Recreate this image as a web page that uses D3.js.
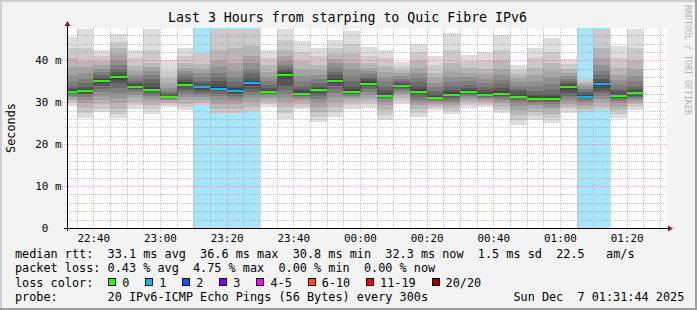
<!DOCTYPE html>
<html>
<head>
<meta charset="utf-8">
<script src="https://cdn.jsdelivr.net/npm/d3@7"></script>
<style>
  html, body { margin: 0; padding: 0; background: #f3f3f3; }
  svg { display: block; }
  text { font-family: "DejaVu Sans Mono", monospace; white-space: pre; }
</style>
</head>
<body>
<div id="chart"></div>
<script>
(function(){
  'use strict';

  // 5 minute buckets (start time of each bucket)
  var barTimes = ["22:30","22:35","22:40","22:45","22:50","22:55","23:00","23:05","23:10","23:15",
                  "23:20","23:25","23:30","23:35","23:40","23:45","23:50","23:55","00:00","00:05",
                  "00:10","00:15","00:20","00:25","00:30","00:35","00:40","00:45","00:50","00:55",
                  "01:00","01:05","01:10","01:15","01:20"];

  var medians = [32.5,32.7,35.1,36.0,33.6,33.0,31.3,34.1,33.6,33.3,
                 32.7,34.6,32.5,36.6,32.1,32.9,35.1,32.5,34.4,31.5,
                 33.8,32.5,31.1,31.7,32.4,31.7,32.0,31.3,30.8,30.8,
                 33.6,31.3,34.3,31.4,32.2];

  var lossCounts = [0,0,0,0,0,0,0,0,1,1,
                    1,1,0,0,0,0,0,0,0,0,
                    0,0,0,0,0,0,0,0,0,0,
                    0,1,1,0,0];

  // sorted ping rtts per bucket (ms), lost pings are null
  var pings = [
    [29.2,29.8,30.3,30.8,31.2,31.6,31.9,32.2,32.4,32.5,32.7,33.0,33.4,34.0,35.0,36.5,38.5,40.5,43.0,45.6],
    [26.3,27.5,28.7,29.8,30.6,31.2,31.7,32.1,32.4,32.6,32.8,33.2,33.7,34.5,35.5,37.0,38.5,39.8,43.0,47.5],
    [27.7,28.5,29.5,30.5,31.5,32.5,33.3,34.0,34.6,35.0,35.2,35.6,36.0,36.6,37.3,38.0,38.8,39.8,41.0,42.6],
    [26.3,27.3,28.5,29.8,31.0,32.2,33.4,34.5,35.4,35.9,36.1,36.6,37.2,38.0,39.0,40.0,41.5,43.0,44.5,46.2],
    [28.3,29.3,30.2,31.0,31.8,32.4,32.9,33.2,33.4,33.6,33.8,34.1,34.5,35.0,35.7,36.5,37.5,38.7,40.5,42.6],
    [27.3,28.3,29.4,30.3,31.0,31.6,32.1,32.5,32.8,33.0,33.2,33.7,34.5,35.5,36.5,37.5,38.5,39.5,42.5,47.5],
    [28.8,29.3,29.8,30.3,30.6,30.9,31.0,31.1,31.2,31.3,31.4,31.6,31.9,32.3,32.8,33.5,34.5,35.8,37.5,40.0],
    [28.1,28.9,29.7,30.5,31.3,32.0,32.7,33.3,33.7,34.0,34.3,34.8,35.4,36.0,36.7,37.5,38.3,39.3,41.0,42.9],
    [28.9,29.4,30.0,30.6,31.2,31.8,32.3,32.8,33.2,33.5,33.7,34.0,34.5,35.2,36.0,37.0,38.0,39.2,41.8,null],
    [27.0,27.5,28.5,29.5,30.5,31.4,32.0,32.6,33.0,33.3,33.6,34.2,35.0,36.0,37.0,38.5,40.0,42.5,47.6,null],
    [27.0,27.5,28.5,29.5,30.3,31.0,31.6,32.0,32.3,32.6,32.9,33.4,34.0,34.8,36.0,37.5,39.5,43.0,47.6,null],
    [27.5,28.0,29.0,30.0,31.0,31.8,32.5,33.2,33.8,34.3,34.7,35.2,36.0,37.0,38.0,39.5,41.0,43.5,47.5,null],
    [28.8,29.5,30.2,30.8,31.3,31.7,32.0,32.2,32.4,32.5,32.7,33.0,33.5,34.2,35.0,36.0,37.3,38.8,40.5,42.6],
    [26.1,27.5,28.8,30.0,31.0,32.0,33.0,34.0,35.5,36.5,36.8,37.2,37.7,38.3,39.0,39.8,41.0,42.5,45.0,47.6],
    [28.3,29.0,29.7,30.4,30.9,31.3,31.6,31.8,32.0,32.1,32.3,32.7,33.3,34.0,35.0,36.3,38.0,39.8,42.0,44.6],
    [25.3,26.5,27.8,29.0,30.0,30.8,31.5,32.1,32.6,32.9,33.1,33.5,34.0,34.7,35.5,36.5,37.7,39.0,41.0,43.0],
    [26.5,27.8,29.0,30.2,31.3,32.3,33.2,34.0,34.6,35.0,35.3,35.8,36.5,37.3,38.3,39.3,40.3,41.5,43.0,44.8],
    [28.5,29.3,30.0,30.7,31.2,31.6,31.9,32.1,32.3,32.5,32.7,33.2,34.0,35.0,36.3,38.0,39.5,41.5,44.0,47.1],
    [28.7,29.5,30.3,31.1,31.8,32.5,33.1,33.6,34.1,34.4,34.7,35.1,35.6,36.1,36.7,37.4,38.2,39.3,41.0,43.2],
    [25.8,27.0,28.2,29.3,30.2,30.8,31.1,31.3,31.4,31.5,31.7,32.2,33.0,34.0,35.0,36.0,37.3,38.7,40.5,42.6],
    [29.5,30.3,31.0,31.7,32.3,32.8,33.2,33.5,33.7,33.8,34.0,34.3,34.7,35.1,35.6,36.2,36.9,37.7,38.6,39.6],
    [26.5,27.5,28.5,29.3,30.0,30.6,31.2,31.8,32.2,32.5,32.8,33.3,34.0,34.8,35.8,37.0,38.3,40.0,42.0,44.0],
    [28.1,28.6,29.1,29.6,30.0,30.4,30.7,30.9,31.0,31.1,31.3,31.6,32.1,32.8,33.7,34.7,35.8,37.0,38.8,41.0],
    [27.3,28.0,28.7,29.3,29.9,30.4,30.8,31.2,31.5,31.7,31.9,32.4,33.0,33.8,34.8,36.0,37.5,39.5,42.5,46.5],
    [28.6,29.3,30.0,30.6,31.1,31.5,31.8,32.1,32.3,32.4,32.6,33.0,33.5,34.2,35.0,36.0,37.0,38.3,39.8,41.3],
    [28.8,29.4,29.9,30.3,30.7,31.0,31.3,31.5,31.6,31.7,31.9,32.3,32.9,33.6,34.5,35.5,36.7,38.0,40.0,42.0],
    [27.4,28.2,29.0,29.8,30.4,30.9,31.3,31.6,31.8,32.0,32.2,32.7,33.4,34.3,35.3,36.5,38.0,40.0,42.5,46.0],
    [24.5,25.8,27.0,28.2,29.2,30.0,30.6,31.0,31.2,31.3,31.5,32.0,32.6,33.3,34.0,34.8,35.7,36.7,37.8,39.0],
    [25.8,26.8,27.8,28.6,29.3,29.8,30.2,30.5,30.7,30.8,31.0,31.4,32.0,32.8,33.8,35.0,36.5,38.3,40.5,43.0],
    [25.0,26.2,27.3,28.3,29.0,29.6,30.1,30.4,30.6,30.8,31.0,31.4,32.1,33.0,34.3,35.8,37.5,39.5,42.0,45.4],
    [27.5,28.3,29.0,29.7,30.4,31.0,31.6,32.3,33.0,33.5,33.8,34.2,34.6,35.0,35.5,36.2,37.0,38.0,39.2,40.3],
    [27.3,27.8,28.5,29.2,29.8,30.3,30.7,31.0,31.2,31.3,31.5,31.8,32.2,32.7,33.2,33.7,34.3,34.9,35.6,null],
    [27.6,28.1,29.0,30.0,30.8,31.5,32.2,32.8,33.4,34.0,34.4,34.9,35.6,36.5,37.5,38.8,40.5,43.0,47.5,null],
    [26.3,27.3,28.2,29.0,29.8,30.4,30.8,31.1,31.3,31.4,31.6,32.0,32.6,33.3,34.2,35.3,36.6,38.2,40.5,43.4],
    [28.1,28.8,29.5,30.1,30.6,31.0,31.3,31.6,31.9,32.1,32.3,32.6,33.2,34.0,35.0,36.3,38.0,40.0,43.0,47.5]
  ];

  var xTickLabels = ["22:40","23:00","23:20","23:40","00:00","00:20","00:40","01:00","01:20"];
  var yTickValues = [0, 10, 20, 30, 40];
  var yTickLabels = ["0  ", "10 m", "20 m", "30 m", "40 m"];

  var lossLegend = ["0","1","2","3","4-5","6-10","11-19","20/20"];
  var lossColors = ["#26ff00","#00b8ff","#0059ff","#7e00ff","#ff00ff","#ff5500","#ff0000","#a10000"];
  var rttStats = ["33.1 ms avg","36.6 ms max","30.8 ms min","32.3 ms now","1.5 ms sd","22.5   am/s"];
  var lossStats = ["0.43 % avg","4.75 % max","0.00 % min","0.00 % now"];
  var probeText = "20 IPv6-ICMP Echo Pings (56 Bytes) every 300s";
  var stampText = "Sun Dec  7 01:31:44 2025";
  var titleText = "Last 3 Hours from starping to Quic Fibre IPv6";

  var w = 697, h = 310,
      left = 67, right = 667, top = 28, bottom = 228,
      stepMs = 300 * 1000,
      cw = 7.12; // legend char width

  function toDate(hm) {
    var p = hm.split(':').map(Number);
    var day = p[0] >= 12 ? 6 : 7;
    return new Date(Date.UTC(2025, 11, day, p[0], p[1]));
  }

  var start = new Date(Date.UTC(2025, 11, 6, 22, 32, 7)),
      end = new Date(start.getTime() + 3 * 3600 * 1000);

  var x = d3.scaleUtc().domain([start, end]).range([left, right]),
      y = d3.scaleLinear().domain([0, 47.75]).range([bottom, top]);

  var bars = barTimes.map(function(t, i) {
    var t0 = toDate(t);
    return {t0: t0, t1: new Date(t0.getTime() + stepMs), med: medians[i], loss: lossCounts[i], p: pings[i]};
  });

  function lossIdx(n) {
    if (n <= 3) return n;
    if (n <= 5) return 4;
    if (n <= 10) return 5;
    if (n <= 19) return 6;
    return 7;
  }
  function px(t) { return Math.round(x(t)); }

  var svg = d3.select('#chart').append('svg')
      .attr('width', w)
      .attr('height', h);

  svg.append('rect').attr('width', w).attr('height', h).attr('fill', '#f3f3f3');
  svg.append('rect').attr('width', w).attr('height', 2).attr('fill', '#cfcfcf');
  svg.append('rect').attr('width', 2).attr('height', h).attr('fill', '#cfcfcf');
  svg.append('rect').attr('y', h - 2).attr('width', w).attr('height', 2).attr('fill', '#9e9e9e');
  svg.append('rect').attr('x', w - 2).attr('width', 2).attr('height', h).attr('fill', '#9e9e9e');

  svg.append('defs').append('clipPath').attr('id', 'plotclip')
    .append('rect').attr('x', left + 1).attr('y', top).attr('width', right - left - 1).attr('height', bottom - top);

  svg.append('rect')
    .attr('x', left).attr('y', top)
    .attr('width', right - left).attr('height', bottom - top)
    .attr('fill', '#ffffff');

  var plot = svg.append('g').attr('clip-path', 'url(#plotclip)');

  // loss background
  plot.selectAll('.lossbg')
    .data(bars.filter(function(d) { return d.loss > 0; }))
    .enter().append('rect')
    .attr('class', 'lossbg')
    .attr('x', function(d) { return px(d.t0); })
    .attr('width', function(d) { return px(d.t1) - px(d.t0); })
    .attr('y', top)
    .attr('height', bottom - top)
    .attr('fill', '#a8e4fb');

  // smoke: band i spans ping i .. ping (21-i)
  var bands = [];
  bars.forEach(function(b) {
    for (var i = 1; i <= 10; i++) {
      var lo = b.p[i - 1], hi = b.p[20 - i];
      if (lo == null || hi == null) continue;
      bands.push({b: b, i: i, lo: lo, hi: hi});
    }
  });

  plot.selectAll('.smoke')
    .data(bands)
    .enter().append('rect')
    .attr('class', 'smoke')
    .attr('shape-rendering', 'crispEdges')
    .attr('x', function(d) { return px(d.b.t0); })
    .attr('width', function(d) { return px(d.b.t1) - px(d.b.t0); })
    .attr('y', function(d) { return Math.round(y(d.hi)); })
    .attr('height', function(d) { return Math.max(1, Math.round(y(d.lo)) - Math.round(y(d.hi))); })
    .attr('fill', function(d) {
      var g = Math.floor(190 / 10 * (10 - d.i)) + 50;
      return d3.rgb(g, g, g).toString();
    });

  // median step line
  var stepPts = bars.map(function(d) { return [px(d.t0), y(d.med)]; });
  stepPts.push([px(bars[bars.length - 1].t1), y(bars[bars.length - 1].med)]);
  plot.append('path')
    .attr('d', d3.line().curve(d3.curveStepAfter)(stepPts))
    .attr('fill', 'none')
    .attr('stroke', '#202020')
    .attr('stroke-width', 1)
    .attr('stroke-dasharray', '1,1')
    .attr('transform', 'translate(0.5,0)');

  plot.selectAll('.median')
    .data(bars)
    .enter().append('rect')
    .attr('class', 'median')
    .attr('shape-rendering', 'crispEdges')
    .attr('x', function(d) { return px(d.t0); })
    .attr('width', function(d) { return px(d.t1) - px(d.t0); })
    .attr('y', function(d) { return Math.round(y(d.med)) - 1; })
    .attr('height', 2)
    .attr('fill', function(d) { return lossColors[lossIdx(d.loss)]; });

  // grid
  var majorTimes = xTickLabels.map(toDate);
  var majorSet = majorTimes.map(function(d) { return d.getTime(); });
  var minorTimes = d3.utcMinute.every(5).range(start, end).filter(function(d) {
    return majorSet.indexOf(d.getTime()) < 0;
  });
  var grid = svg.append('g').attr('shape-rendering', 'crispEdges');
  var minorCol = 'rgba(143,143,143,0.5)', majorCol = 'rgba(230,90,90,0.45)';

  grid.selectAll('.vminor').data(minorTimes).enter().append('line')
    .attr('x1', function(d) { return px(d) + 0.5; }).attr('x2', function(d) { return px(d) + 0.5; })
    .attr('y1', top).attr('y2', bottom + 2)
    .attr('stroke', minorCol).attr('stroke-dasharray', '1,1');

  var hMinor = d3.range(2, 47.75, 2).filter(function(v) { return v % 10 !== 0; });
  grid.selectAll('.hminor').data(hMinor).enter().append('line')
    .attr('x1', left - 2).attr('x2', right)
    .attr('y1', function(d) { return Math.round(y(d)) + 0.5; }).attr('y2', function(d) { return Math.round(y(d)) + 0.5; })
    .attr('stroke', minorCol).attr('stroke-dasharray', '1,1');

  grid.selectAll('.vmajor').data(majorTimes).enter().append('line')
    .attr('x1', function(d) { return px(d) + 0.5; }).attr('x2', function(d) { return px(d) + 0.5; })
    .attr('y1', top).attr('y2', bottom + 3)
    .attr('stroke', majorCol).attr('stroke-dasharray', '1,1');

  grid.selectAll('.hmajor').data(yTickValues.filter(function(v) { return v > 0; })).enter().append('line')
    .attr('x1', left - 5).attr('x2', right)
    .attr('y1', function(d) { return Math.round(y(d)) + 0.5; }).attr('y2', function(d) { return Math.round(y(d)) + 0.5; })
    .attr('stroke', majorCol).attr('stroke-dasharray', '1,1');

  // axes lines + arrows
  svg.append('line')
    .attr('x1', left - 3).attr('x2', right + 2)
    .attr('y1', bottom + 0.5).attr('y2', bottom + 0.5)
    .attr('stroke', '#000').attr('shape-rendering', 'crispEdges');
  svg.append('line')
    .attr('x1', left + 0.5).attr('x2', left + 0.5)
    .attr('y1', bottom + 3).attr('y2', top - 3)
    .attr('stroke', '#000').attr('shape-rendering', 'crispEdges');
  svg.append('path')
    .attr('d', 'M' + (right + 1) + ',' + (bottom - 2.5) + 'L' + (right + 6) + ',' + (bottom + 0.5) + 'L' + (right + 1) + ',' + (bottom + 3.5) + 'Z')
    .attr('fill', '#8b1a1a');
  svg.append('path')
    .attr('d', 'M' + (left - 2.5) + ',' + (top - 2) + 'L' + (left + 0.5) + ',' + (top - 7) + 'L' + (left + 3.5) + ',' + (top - 2) + 'Z')
    .attr('fill', '#8b1a1a');

  // tick labels via d3 axes
  var xAxis = d3.axisBottom(x)
      .tickValues(majorTimes)
      .tickFormat(function(d, i) { return xTickLabels[i]; })
      .tickSize(0)
      .tickPadding(6.3);
  var gx = svg.append('g')
    .attr('transform', 'translate(0,' + bottom + ')')
    .call(xAxis);
  gx.select('.domain').remove();
  gx.selectAll('text').attr('font-family', '"DejaVu Sans Mono", monospace').attr('font-size', 10.9).attr('fill', '#000');

  var yAxis = d3.axisLeft(y)
      .tickValues(yTickValues)
      .tickFormat(function(d, i) { return yTickLabels[i]; })
      .tickSize(0)
      .tickPadding(5.5);
  var gy = svg.append('g')
    .attr('transform', 'translate(' + left + ',0)')
    .call(yAxis);
  gy.select('.domain').remove();
  gy.selectAll('text').attr('font-family', '"DejaVu Sans Mono", monospace').attr('font-size', 10.9)
    .attr('fill', '#000').style('white-space', 'pre');

  // titles
  svg.append('text')
    .attr('x', 347.5).attr('y', 21.5)
    .attr('text-anchor', 'middle')
    .attr('font-size', 13.25)
    .text(titleText);

  svg.append('text')
    .attr('transform', 'translate(15,128) rotate(-90)')
    .attr('text-anchor', 'middle')
    .attr('font-size', 11.83)
    .text('Seconds');

  svg.append('text')
    .attr('transform', 'translate(684.5,60) rotate(90)')
    .attr('text-anchor', 'middle')
    .attr('font-size', 8.3)
    .attr('fill', '#b4b4b4')
    .text('RRDTOOL / TOBI OETIKER');

  // legend
  function col(c) { return 15 + c * cw; }
  var leg = svg.append('g').attr('font-size', 11.83).attr('fill', '#000');

  leg.append('text').attr('x', col(0)).attr('y', 258).text('median rtt:');
  leg.append('text').attr('x', col(13)).attr('y', 258).text(rttStats.join('  '));
  leg.append('text').attr('x', col(0)).attr('y', 272).text('packet loss:');
  leg.append('text').attr('x', col(13)).attr('y', 272).text(lossStats.join('  '));
  leg.append('text').attr('x', col(0)).attr('y', 286.5).text('loss color:');

  var bx = 108.3, items = [];
  lossLegend.forEach(function(l, i) {
    items.push({x: bx, label: l, c: lossColors[i]});
    bx += (l.length + 4.2) * cw;
  });
  var li = leg.selectAll('.litem').data(items).enter().append('g');
  li.append('rect')
    .attr('x', function(d) { return Math.round(d.x) + 0.5; })
    .attr('y', 278.5)
    .attr('width', 7).attr('height', 7)
    .attr('fill', function(d) { return d.c; })
    .attr('stroke', '#000').attr('stroke-width', 1);
  li.append('text')
    .attr('x', function(d) { return d.x + 14; })
    .attr('y', 286.5)
    .text(function(d) { return d.label; });

  leg.append('text').attr('x', col(0)).attr('y', 300.5).text('probe:');
  leg.append('text').attr('x', col(13)).attr('y', 300.5).text(probeText);
  leg.append('text').attr('x', col(70)).attr('y', 300.5).text(stampText);

}());
</script>
</body>
</html>
